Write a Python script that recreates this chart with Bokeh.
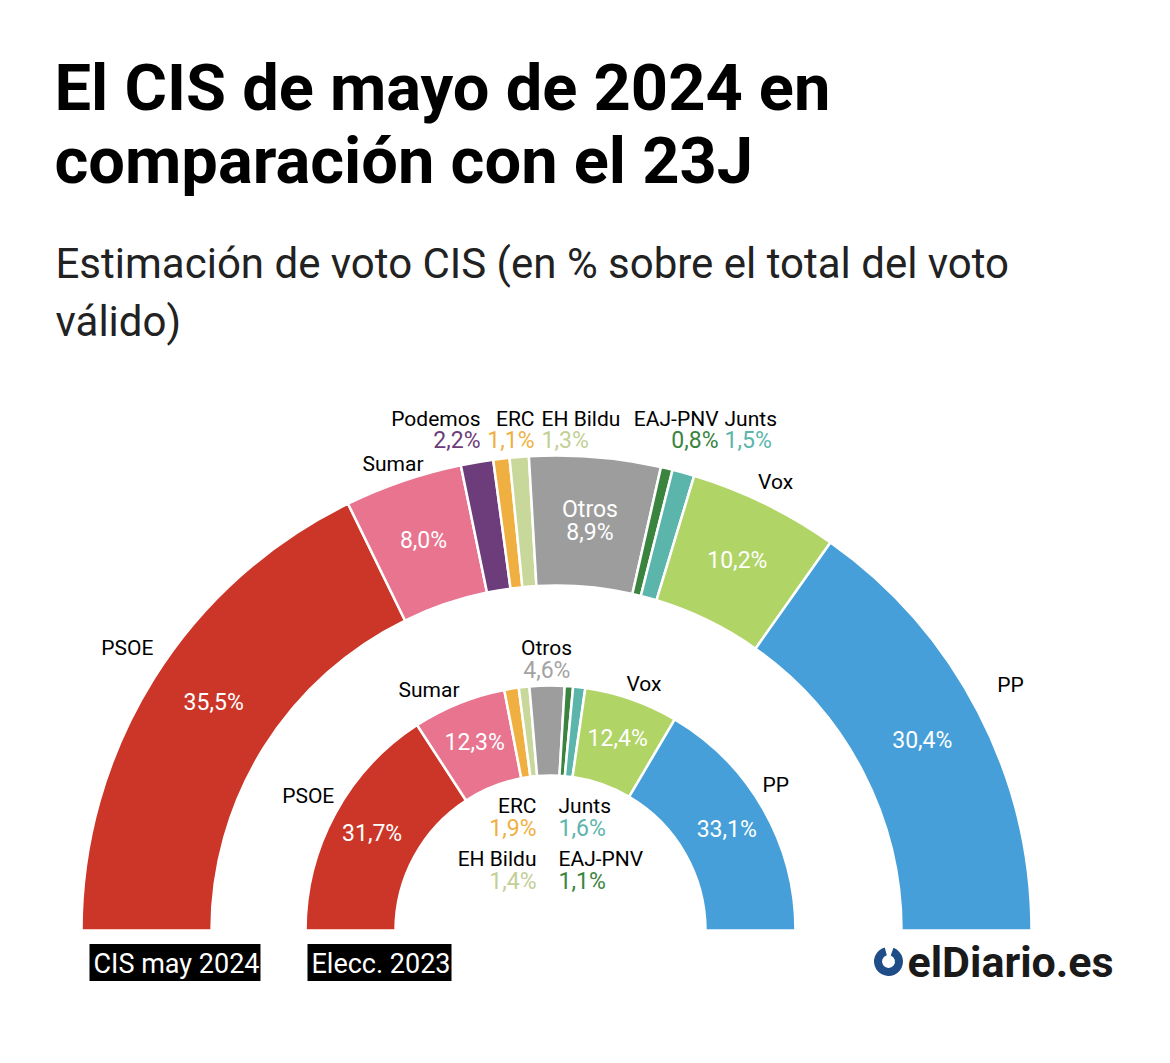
import math
from bokeh.plotting import figure
from bokeh.models import Range1d, ColumnDataSource
from bokeh.core.properties import value
from bokeh.embed import file_html
from bokeh.resources import INLINE

W, H = 1170, 1063

# ---------------- data ----------------
parties_cis = ["PSOE", "Sumar", "Podemos", "ERC", "EH Bildu", "Otros", "EAJ-PNV", "Junts", "Vox", "PP"]
values_cis = [35.5, 8.0, 2.2, 1.1, 1.3, 8.9, 0.8, 1.5, 10.2, 30.4]

parties_23 = ["PSOE", "Sumar", "ERC", "EH Bildu", "Otros", "EAJ-PNV", "Junts", "Vox", "PP"]
values_23 = [31.7, 12.3, 1.9, 1.4, 4.6, 1.1, 1.6, 12.4, 33.1]

party_colors = {
    "PSOE": "#cc3629", "Sumar": "#e8748f", "Podemos": "#6c3d7a", "ERC": "#f0b041",
    "EH Bildu": "#c8d89b", "Otros": "#9d9d9d", "EAJ-PNV": "#3a8440", "Junts": "#5bb5ab",
    "Vox": "#b1d466", "PP": "#469fd8",
}
pct_text_colors = {
    "Podemos": "#6c3d7a", "ERC": "#f0b041", "EH Bildu": "#c2cf95", "Otros": "#a3a3a3",
    "EAJ-PNV": "#3a8440", "Junts": "#5bb5ab",
}

title_lines = ["El CIS de mayo de 2024 en", "comparación con el 23J"]
subtitle_lines = ["Estimación de voto CIS (en % sobre el total del voto", "válido)"]
ring_labels = ["CIS may 2024", "Elecc. 2023"]

FONT = value("Roboto")


def fmt(v):
    return f"{v:.1f}".replace(".", ",") + "%"


def Y(py):
    return H - py


p = figure(width=W, height=H, x_range=Range1d(0, W), y_range=Range1d(0, H),
           output_backend="svg", toolbar_location=None, min_border=0,
           x_axis_type=None, y_axis_type=None)
p.grid.visible = False
p.outline_line_color = None
p.background_fill_color = "white"
p.border_fill_color = "white"


def ring(parties, vals, cx, cy, r_in, r_out):
    total = sum(vals)
    cum = 0.0
    starts, ends, cols, mids = [], [], [], []
    for pt, v in zip(parties, vals):
        a_end = math.pi * (1 - cum / total)
        cum += v
        a_start = math.pi * (1 - cum / total)
        starts.append(a_start)
        ends.append(a_end)
        cols.append(party_colors[pt])
        mids.append((a_start + a_end) / 2)
    src = ColumnDataSource(dict(x=[cx] * len(vals), y=[cy] * len(vals), s=starts, e=ends, c=cols))
    p.annular_wedge(x="x", y="y", inner_radius=r_in, outer_radius=r_out,
                    start_angle="s", end_angle="e", fill_color="c",
                    line_color="white", line_width=2.5, source=src)
    return dict(zip(parties, mids))


# ---------------- rings ----------------
CX1, CY1, R1i, R1o = 556, Y(930), 345, 475
CX2, CY2, R2i, R2o = 550, Y(930), 155, 245

mid1 = ring(parties_cis, values_cis, CX1, CY1, R1i, R1o)
mid2 = ring(parties_23, values_23, CX2, CY2, R2i, R2o)

PCT_SIZE = "23px"
NAME_SIZE = "21px"


def txt(x, y, s, color="black", size=NAME_SIZE, align="center", baseline="middle", style="normal"):
    p.text(x=[x], y=[y], text=[s], text_color=color, text_font=FONT, text_font_size=size,
           text_align=align, text_baseline=baseline, text_font_style=style)


def polar(cx, cy, r, a):
    return cx + r * math.cos(a), cy + r * math.sin(a)


# outer ring: (angle nudge in degrees, radius) for outside names; nudge for inside values
outer_name_pos = {"PSOE": (-1.4, 514), "Sumar": (0.5, 494), "Vox": (0.0, 499), "PP": (1.0, 516)}
outer_val_nudge = {"PSOE": -1.7, "Sumar": 0.0, "Vox": 0.0, "PP": 0.0}
val1 = dict(zip(parties_cis, values_cis))
rm1 = (R1i + R1o) / 2
for pt in ["PSOE", "Sumar", "Vox", "PP"]:
    a = mid1[pt]
    x, y = polar(CX1, CY1, rm1 + 2, a + math.radians(outer_val_nudge[pt]))
    txt(x, y, fmt(val1[pt]), "white", PCT_SIZE)
    da, rl = outer_name_pos[pt]
    x, y = polar(CX1, CY1, rl, a + math.radians(da))
    txt(x, y, pt)
ox, oy = polar(CX1, CY1, rm1, mid1["Otros"])
txt(ox, oy + 12, "Otros", "white", PCT_SIZE)
txt(ox, oy - 11, fmt(val1["Otros"]), "white", PCT_SIZE)

# small parties on top of outer ring
top_name_y, top_pct_y = Y(418), Y(440)
small_top = [("Podemos", 480, "right"), ("ERC", 534, "right"), ("EH Bildu", 541, "left"),
             ("EAJ-PNV", 718, "right"), ("Junts", 724, "left")]
for pt, x, al in small_top:
    txt(x, top_name_y, pt, align=al)
    txt(x, top_pct_y, fmt(val1[pt]), pct_text_colors[pt], PCT_SIZE, align=al)

# inner ring
inner_name_pos = {"PSOE": (-0.5, 277), "Sumar": (4.9, 269), "Vox": (-1.4, 264), "PP": (3.0, 268)}
val2 = dict(zip(parties_23, values_23))
rm2 = (R2i + R2o) / 2
for pt in ["PSOE", "Sumar", "Vox", "PP"]:
    a = mid2[pt]
    x, y = polar(CX2, CY2, rm2 + 3, a)
    txt(x, y, fmt(val2[pt]), "white", PCT_SIZE)
    da, rl = inner_name_pos[pt]
    x, y = polar(CX2, CY2, rl, a + math.radians(da))
    txt(x, y, pt)
a = mid2["Otros"]
x, y = polar(CX2, CY2, 283, a)
txt(x, y, "Otros")
x, y = polar(CX2, CY2, 260, a)
txt(x, y, fmt(val2["Otros"]), pct_text_colors["Otros"], PCT_SIZE)

inner_small = [("ERC", 536, "right", 805), ("EH Bildu", 536, "right", 858),
               ("Junts", 558, "left", 805), ("EAJ-PNV", 558, "left", 858)]
for pt, x, al, py in inner_small:
    txt(x, Y(py), pt, align=al)
    txt(x, Y(py + 23), fmt(val2[pt]), pct_text_colors[pt], PCT_SIZE, align=al)

# ---------------- titles ----------------
txt(54, Y(87), title_lines[0], "black", "65px", "left", "alphabetic", "bold")
txt(54, Y(160), title_lines[1], "black", "65px", "left", "alphabetic", "bold")
txt(55, Y(263), subtitle_lines[0], "#222222", "42px", "left", "alphabetic")
txt(55, Y(321), subtitle_lines[1], "#222222", "42px", "left", "alphabetic")

# ---------------- ring labels ----------------
for s, x in zip(ring_labels, [85, 303]):
    p.text(x=[x + 4], y=[Y(962)], text=[s], text_color="white", text_font=FONT,
           text_font_size="27px", text_align="left", text_baseline="middle",
           background_fill_color="black", padding=[4, 1, 4, 1])

# ---------------- logo ----------------
p.annular_wedge(x=[888], y=[Y(961)], inner_radius=6.5, outer_radius=14.5,
                start_angle=math.radians(105), end_angle=math.radians(70),
                fill_color="#1f4d87", line_color=None)
txt(907, Y(961), "elDiario.es", "#1a1a1a", "43px", "left", "alphabetic", "bold")

html = file_html(p, INLINE)
open("out.html", "w").write(html)
